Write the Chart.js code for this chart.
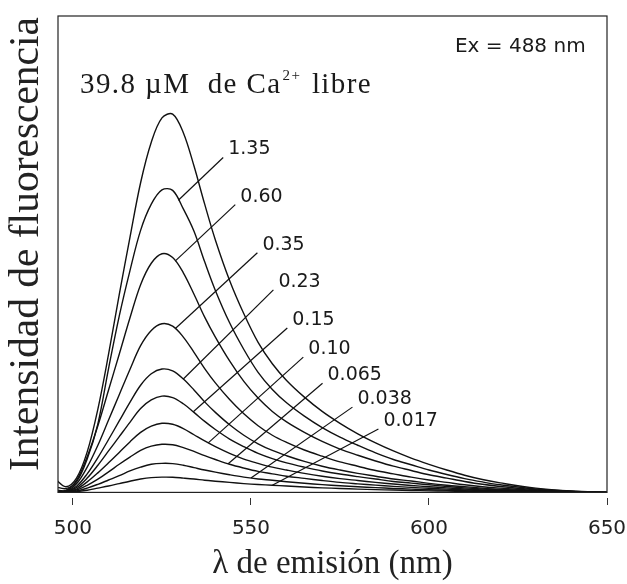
<!DOCTYPE html>
<html>
<head>
<meta charset="utf-8">
<title>Intensidad de fluorescencia</title>
<script src="https://cdn.jsdelivr.net/npm/chart.js@4"></script>
<style>
  html, body { margin: 0; padding: 0; background: #fff; }
  #wrap { width: 627px; height: 584px; position: relative; }
</style>
</head>
<body>
<div id="wrap"><canvas id="spectra"></canvas></div>
<script>
// longitudes de onda de emisión (nm)
const wavelengths = [495, 498, 501, 504, 507, 510, 513, 516, 519, 522, 525, 528, 531, 534, 537, 540,
  544, 548, 552, 556, 560, 565, 570, 575, 580, 585, 590, 595, 600, 605, 610, 615, 620, 630, 640, 650];

// intensidad de fluorescencia para cada [Ca2+] libre (µM)
const ca39_8 = [2.8, 1.2, 3.0, 8.5, 17.5, 29, 41.5, 53.5, 65, 73.5, 78.6, 79.4, 75.5, 68.5, 60.5, 53,
  44.5, 37.5, 31.5, 27, 23.5, 20, 17, 14.5, 12.3, 10.4, 8.7, 7.2, 5.9, 4.7, 3.6, 2.7, 2.0, 0.9, 0.3, 0];
const ca1_35 = [1.2, 0.8, 2.2, 7, 14.4, 26, 37, 46.5, 55, 60.5, 63.5, 63.4, 59.5, 54.8, 48.4, 42.4,
  35.6, 30, 25.2, 21.6, 18.8, 16.0, 13.6, 11.6, 9.9, 8.3, 6.9, 5.8, 4.7, 3.75, 2.9, 2.2, 1.6, 0.7, 0.25, 0];
const ca0_60 = [0.5, 0.4, 2.5, 7.5, 14, 21.5, 29, 36.6, 43.6, 48.1, 50.1, 49.3, 46.1, 41.6, 36.8, 32.6,
  27.6, 23.3, 19.8, 17.0, 14.8, 12.6, 10.7, 9.1, 7.8, 6.6, 5.5, 4.6, 3.7, 3.0, 2.3, 1.7, 1.25, 0.55, 0.2, 0];
const ca0_35 = [0.4, 0.3, 1.8, 5.3, 9.9, 15.2, 20.5, 25.8, 30.8, 34, 35.4, 34.9, 32.6, 29.4, 26, 23,
  19.5, 16.5, 14, 12.0, 10.5, 8.9, 7.6, 6.4, 5.5, 4.6, 3.9, 3.2, 2.6, 2.1, 1.6, 1.2, 0.9, 0.4, 0.14, 0];
const ca0_23 = [0.3, 0.25, 1.3, 3.9, 7.3, 11.1, 15, 18.9, 22.5, 24.9, 25.9, 25.5, 23.8, 21.5, 19, 16.8,
  14.2, 12, 10.2, 8.8, 7.7, 6.5, 5.5, 4.7, 4.0, 3.4, 2.8, 2.4, 1.9, 1.5, 1.2, 0.9, 0.65, 0.28, 0.1, 0];
const ca0_15 = [0.25, 0.2, 1.0, 3.0, 5.7, 8.7, 11.7, 14.7, 17.6, 19.4, 20.2, 19.9, 18.6, 16.8, 14.9, 13.2,
  11.2, 9.6, 8.2, 7.1, 6.2, 5.3, 4.5, 3.85, 3.3, 2.8, 2.3, 1.95, 1.6, 1.25, 0.95, 0.72, 0.53, 0.23, 0.08, 0];
const ca0_10 = [0.2, 0.15, 0.7, 2.2, 4.1, 6.2, 8.4, 10.6, 12.6, 13.9, 14.5, 14.3, 13.4, 12.1, 10.8, 9.6,
  8.2, 7.0, 6.1, 5.3, 4.7, 4.0, 3.4, 2.9, 2.5, 2.1, 1.75, 1.45, 1.2, 0.95, 0.72, 0.54, 0.4, 0.18, 0.06, 0];
const ca0_065 = [0.15, 0.1, 0.5, 1.5, 2.8, 4.3, 5.9, 7.4, 8.8, 9.7, 10.1, 10.0, 9.4, 8.6, 7.7, 6.9,
  5.9, 5.1, 4.4, 3.9, 3.4, 2.95, 2.5, 2.1, 1.8, 1.52, 1.27, 1.06, 0.86, 0.69, 0.52, 0.4, 0.29, 0.13, 0.05, 0];
const ca0_038 = [0.1, 0.08, 0.3, 0.9, 1.7, 2.6, 3.5, 4.5, 5.3, 5.9, 6.1, 6.05, 5.7, 5.2, 4.7, 4.25,
  3.7, 3.2, 2.8, 2.55, 2.25, 1.92, 1.63, 1.39, 1.18, 1.0, 0.83, 0.69, 0.56, 0.45, 0.34, 0.26, 0.19, 0.08, 0.03, 0];
const ca0_017 = [0.05, 0.05, 0.15, 0.45, 0.9, 1.35, 1.85, 2.35, 2.8, 3.1, 3.2, 3.18, 3.0, 2.8, 2.55, 2.35,
  2.1, 1.85, 1.65, 1.5, 1.33, 1.13, 0.96, 0.82, 0.69, 0.59, 0.49, 0.41, 0.33, 0.26, 0.2, 0.15, 0.11, 0.05, 0.02, 0];

const spectra = [ca39_8, ca1_35, ca0_60, ca0_35, ca0_23, ca0_15, ca0_10, ca0_065, ca0_038, ca0_017];

// etiquetas de concentración (µM), de la segunda curva hacia abajo
const concLabels = ['1.35', '0.60', '0.35', '0.23', '0.15', '0.10', '0.065', '0.038', '0.017'];

const xTicks = [500, 550, 600, 650];

// dónde sale cada línea guía de su curva y dónde termina junto al texto (nm, intensidad)
const leaderFromX = [529.6, 528.7, 528.7, 531, 533.8, 538, 543.6, 550, 556];
const leaderToX = [542.2, 545.6, 551.8, 556.3, 560.2, 564.7, 570.1, 578.5, 585.8];
const leaderToY = [70.3, 60.4, 50.3, 42.5, 34.5, 28.4, 22.9, 17.9, 13.3];

// interpolación lineal de una curva en una longitud de onda dada
function valueAt(series, nm) {
    for (let i = 1; i < wavelengths.length; i++) {
        if (nm <= wavelengths[i]) {
            const t = (nm - wavelengths[i - 1]) / (wavelengths[i] - wavelengths[i - 1]);
            return series[i - 1] + t * (series[i] - series[i - 1]);
        }
    }
    return series[series.length - 1];
}

const curveDatasets = spectra.map(s => ({
    data: wavelengths.map((x, i) => ({ x: x, y: s[i] })),
    borderColor: '#111',
    borderWidth: 1.4,
    pointRadius: 0,
    fill: false,
    tension: 0.35
}));

const leaderDatasets = concLabels.map((t, i) => ({
    data: [
        { x: leaderFromX[i], y: valueAt(spectra[i + 1], leaderFromX[i]) },
        { x: leaderToX[i], y: leaderToY[i] }
    ],
    borderColor: '#111',
    borderWidth: 1.2,
    pointRadius: 0,
    fill: false,
    tension: 0
}));

// marco del gráfico
const framePlugin = {
    id: 'frame',
    afterDraw(chart) {
        const { ctx, chartArea: a } = chart;
        ctx.save();
        ctx.strokeStyle = '#222';
        ctx.lineWidth = 1.2;
        ctx.strokeRect(a.left, a.top, a.right - a.left, a.bottom - a.top);
        ctx.restore();
    }
};

// textos: concentraciones, excitación, título del eje Y
const textPlugin = {
    id: 'texts',
    afterDatasetsDraw(chart) {
        const { ctx, scales: { x, y } } = chart;
        ctx.save();
        ctx.fillStyle = '#1a1a1a';
        ctx.textBaseline = 'middle';
        ctx.textAlign = 'left';

        ctx.font = '19px "DejaVu Sans"';
        concLabels.forEach((t, i) => {
            ctx.fillText(t, x.getPixelForValue(leaderToX[i]) + 5, y.getPixelForValue(leaderToY[i]) - 8);
        });

        ctx.font = '20px "DejaVu Sans"';
        ctx.fillText('Ex = 488 nm', x.getPixelForValue(607.3), y.getPixelForValue(93.5));

        // 39.8 µM de Ca2+ libre
        let px = x.getPixelForValue(502);
        const py = y.getPixelForValue(85.5);
        ctx.font = '29px "Liberation Serif"';
        ctx.letterSpacing = '1.4px';
        const head = '39.8 µM  de Ca';
        ctx.fillText(head, px, py);
        px += ctx.measureText(head).width + 1;
        ctx.font = '15px "Liberation Serif"';
        ctx.fillText('2+', px, py - 9);
        px += ctx.measureText('2+').width + 2;
        ctx.font = '29px "Liberation Serif"';
        ctx.fillText(' libre', px, py);
        ctx.letterSpacing = '0px';

        ctx.translate(27, 244);
        ctx.rotate(-Math.PI / 2);
        ctx.textAlign = 'center';
        ctx.font = '41.5px "Liberation Serif"';
        ctx.fillStyle = '#222';
        ctx.fillText('Intensidad de fluorescencia', 0, 0);
        ctx.restore();
    }
};

new Chart(document.getElementById('spectra'), {
    type: 'line',
    data: { datasets: curveDatasets.concat(leaderDatasets) },
    options: {
        responsive: true,
        maintainAspectRatio: false,
        devicePixelRatio: 1,
        animation: false,
        layout: { padding: { top: 16, left: 58, right: 20, bottom: 2 } },
        plugins: {
            legend: { display: false },
            tooltip: { enabled: false }
        },
        scales: {
            x: {
                type: 'linear',
                min: 495.8,
                max: 650,
                afterBuildTicks: scale => { scale.ticks = xTicks.map(v => ({ value: v })); },
                // el margen lateral lo fija layout.padding
                afterFit: scale => { scale.paddingLeft = 0; scale.paddingRight = 0; },
                border: { display: false },
                grid: {
                    display: true,
                    drawOnChartArea: false,
                    drawTicks: true,
                    tickLength: 13,
                    tickColor: '#333',
                    tickWidth: 1,
                    tickBorderDash: [0, 6, 7, 20]
                },
                ticks: {
                    padding: 11,
                    color: '#222',
                    maxRotation: 0,
                    font: { family: 'DejaVu Sans', size: 20 }
                },
                title: {
                    display: true,
                    text: 'λ de emisión (nm)',
                    color: '#222',
                    padding: { top: -7, bottom: -2 },
                    font: { family: 'Liberation Serif', size: 33 }
                }
            },
            y: {
                display: false,
                min: 0,
                max: 100
            }
        }
    },
    plugins: [framePlugin, textPlugin]
});
</script>
</body>
</html>
